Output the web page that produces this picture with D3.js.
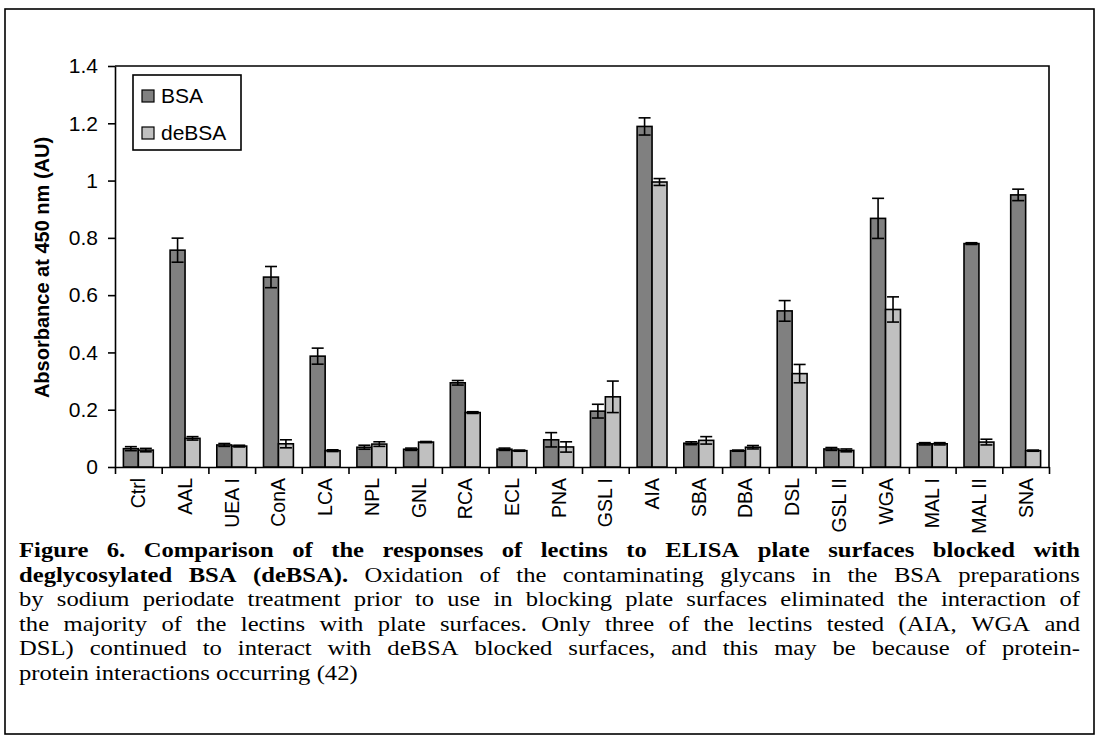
<!DOCTYPE html>
<html>
<head>
<meta charset="utf-8">
<script src="https://cdn.jsdelivr.net/npm/d3@7"></script>
<style>
  body { margin: 0; background: #fff; }
  svg { display: block; }
  .axis text { font-family: "Liberation Sans", Arial, sans-serif; font-size: 21px; fill: #000; }
  .axis path, .axis line { stroke: #000; stroke-width: 1.6px; }
</style>
</head>
<body>
<div id="chart-area"></div>
<script>

var width = 1098,
    height = 736;

// Data
var lectins = ["Ctrl", "AAL", "UEA I", "ConA", "LCA", "NPL", "GNL", "RCA", "ECL", "PNA",
               "GSL I", "AIA", "SBA", "DBA", "DSL", "GSL II", "WGA", "MAL I", "MAL II", "SNA"];
var seriesNames = ["BSA", "deBSA"];
var bsa      = [0.064, 0.757, 0.077, 0.663, 0.387, 0.069, 0.062, 0.294, 0.062, 0.095,
                0.195, 1.189, 0.083, 0.057, 0.545, 0.063, 0.868, 0.081, 0.780, 0.950];
var bsaErr   = [0.007, 0.042, 0.005, 0.037, 0.028, 0.007, 0.004, 0.008, 0.004, 0.025,
                0.024, 0.030, 0.005, 0.002, 0.036, 0.005, 0.070, 0.004, 0.003, 0.020];
var debsa    = [0.059, 0.100, 0.073, 0.081, 0.057, 0.080, 0.087, 0.190, 0.057, 0.070,
                0.245, 0.995, 0.093, 0.069, 0.326, 0.058, 0.550, 0.081, 0.087, 0.057];
var debsaErr = [0.006, 0.006, 0.003, 0.014, 0.003, 0.008, 0.002, 0.003, 0.002, 0.018,
                0.055, 0.012, 0.013, 0.006, 0.032, 0.005, 0.044, 0.004, 0.010, 0.002];
var yTicks = [0, 0.2, 0.4, 0.6, 0.8, 1, 1.2, 1.4];
var colors = ["#808080", "#c0c0c0"];

// Caption lines: [text, bold] segments
var caption = [
    [["Figure 6. Comparison of the responses of lectins to ELISA plate surfaces blocked with", true]],
    [["deglycosylated BSA (deBSA).", true], ["Oxidation of the contaminating glycans in the BSA preparations", false]],
    [["by sodium periodate treatment prior to use in blocking plate surfaces eliminated the interaction of", false]],
    [["the majority of the lectins with plate surfaces. Only three of the lectins tested (AIA, WGA and", false]],
    [["DSL) continued to interact with deBSA blocked surfaces, and this may be because of protein-", false]],
    [["protein interactions occurring (42)", false]]
];

var margin = {left: 115, right: 49, top: 66, bottom: 269};
var plotW = width - margin.left - margin.right,
    plotH = height - margin.top - margin.bottom;

var svg = d3.select("#chart-area").append("svg")
    .attr("width", width)
    .attr("height", height);

// outer frame
svg.append("rect")
    .attr("x", 5).attr("y", 9)
    .attr("width", 1089).attr("height", 725)
    .attr("fill", "none")
    .attr("stroke", "#000")
    .attr("stroke-width", 1.6);

var g = svg.append("g")
    .attr("transform", "translate(" + margin.left + "," + margin.top + ")");

var x0 = d3.scaleBand()
    .domain(lectins)
    .range([0, plotW])
    .paddingInner(0.36)
    .paddingOuter(0.18);

var x1 = d3.scaleBand()
    .domain(seriesNames)
    .range([0, x0.bandwidth()]);

var xEdge = d3.scaleLinear()
    .domain([0, lectins.length])
    .range([0, plotW]);

var y = d3.scaleLinear()
    .domain([0, 1.4])
    .range([plotH, 0]);

// plot frame (top and right)
g.append("path")
    .attr("d", "M0,0H" + plotW + "V" + plotH)
    .attr("fill", "none")
    .attr("stroke", "#000")
    .attr("stroke-width", 1.6);

// y axis
g.append("g")
    .attr("class", "axis")
    .call(d3.axisLeft(y)
        .tickValues(yTicks)
        .tickSize(7)
        .tickPadding(10)
        .tickSizeOuter(0)
        .tickFormat(function(d) { return String(+d.toFixed(1)); }));

// x axis (ticks between categories)
g.append("g")
    .attr("class", "axis")
    .attr("transform", "translate(0," + plotH + ")")
    .call(d3.axisBottom(xEdge)
        .tickValues(d3.range(lectins.length + 1))
        .tickSize(7)
        .tickSizeOuter(0)
        .tickFormat(""));

// category labels, rotated
g.selectAll(".xlabel")
    .data(lectins)
    .enter().append("text")
    .attr("class", "xlabel")
    .attr("transform", function(d) {
        return "translate(" + (x0(d) + x0.bandwidth() / 2) + "," + (plotH + 11) + ") rotate(-90)";
    })
    .attr("text-anchor", "end")
    .attr("dy", "0.36em")
    .style("font-family", "Liberation Sans, Arial, sans-serif")
    .style("font-size", "19.5px")
    .text(function(d) { return d; });

// bars
var rows = lectins.map(function(name, i) {
    return {
        name: name,
        values: [
            {key: "BSA", v: bsa[i], e: bsaErr[i], c: colors[0]},
            {key: "deBSA", v: debsa[i], e: debsaErr[i], c: colors[1]}
        ]
    };
});

var group = g.selectAll(".group")
    .data(rows)
    .enter().append("g")
    .attr("class", "group")
    .attr("transform", function(d) { return "translate(" + x0(d.name) + ",0)"; });

group.selectAll("rect")
    .data(function(d) { return d.values; })
    .enter().append("rect")
    .attr("x", function(d) { return x1(d.key); })
    .attr("width", x1.bandwidth())
    .attr("y", function(d) { return y(d.v); })
    .attr("height", function(d) { return plotH - y(d.v); })
    .attr("fill", function(d) { return d.c; })
    .attr("stroke", "#000")
    .attr("stroke-width", 1.6);

// error bars
var capW = 6;
var err = group.selectAll(".err")
    .data(function(d) { return d.values; })
    .enter().append("g")
    .attr("class", "err")
    .attr("stroke", "#000")
    .attr("stroke-width", 1.6);

function midX(d) { return x1(d.key) + x1.bandwidth() / 2; }

err.append("line")
    .attr("x1", midX)
    .attr("x2", midX)
    .attr("y1", function(d) { return y(d.v - d.e); })
    .attr("y2", function(d) { return y(d.v + d.e); });

err.append("line")
    .attr("x1", function(d) { return midX(d) - capW; })
    .attr("x2", function(d) { return midX(d) + capW; })
    .attr("y1", function(d) { return y(d.v + d.e); })
    .attr("y2", function(d) { return y(d.v + d.e); });

err.append("line")
    .attr("x1", function(d) { return midX(d) - capW; })
    .attr("x2", function(d) { return midX(d) + capW; })
    .attr("y1", function(d) { return y(d.v - d.e); })
    .attr("y2", function(d) { return y(d.v - d.e); });

// y axis title
svg.append("text")
    .attr("transform", "translate(42," + (margin.top + plotH / 2 + 1) + ") rotate(-90)")
    .attr("text-anchor", "middle")
    .attr("dy", "0.36em")
    .style("font-family", "Liberation Sans, Arial, sans-serif")
    .style("font-size", "20px")
    .style("font-weight", "bold")
    .text("Absorbance at 450 nm (AU)");

// legend
var legend = svg.append("g")
    .attr("transform", "translate(133,75)");

legend.append("rect")
    .attr("width", 108).attr("height", 75)
    .attr("fill", "#fff")
    .attr("stroke", "#000")
    .attr("stroke-width", 1.6);

var item = legend.selectAll(".item")
    .data(seriesNames)
    .enter().append("g")
    .attr("class", "item")
    .attr("transform", function(d, i) { return "translate(9," + (15 + i * 37) + ")"; });

item.append("rect")
    .attr("width", 12).attr("height", 12)
    .attr("fill", function(d, i) { return colors[i]; })
    .attr("stroke", "#000")
    .attr("stroke-width", 1.2);

item.append("text")
    .attr("x", 19)
    .attr("y", 13)
    .style("font-family", "Liberation Sans, Arial, sans-serif")
    .style("font-size", "21px")
    .text(function(d) { return d; });

// caption: one text block, each word a tspan, lines justified
var capLeft = 19, capRight = 1080, capTop = 557, capStep = 24.6;
var capSize = 22, spaceW = 5.5, maxStretch = 1.12;

var capText = svg.append("text")
    .style("font-family", "Liberation Serif, 'Times New Roman', serif")
    .style("font-size", capSize + "px");

var capLines = caption.map(function(line) {
    var words = [];
    line.forEach(function(seg) {
        seg[0].split(" ").forEach(function(w) { words.push({t: w, b: seg[1]}); });
    });
    words.forEach(function(w) {
        w.node = capText.append("tspan")
            .style("font-weight", w.b ? "bold" : "normal")
            .text(w.t);
        w.w = w.node.node().getComputedTextLength();
    });
    return words;
});

var target = capRight - capLeft;
var sx = maxStretch;
capLines.forEach(function(words, li) {
    if (li === capLines.length - 1) return;
    var total = d3.sum(words, function(w) { return w.w; });
    sx = Math.min(sx, target / (total + 0.8 * spaceW * (words.length - 1)));
});

capText.attr("transform", "translate(" + capLeft + ",0) scale(" + sx + ",1)");

capLines.forEach(function(words, li) {
    var total = d3.sum(words, function(w) { return w.w; });
    var last = li === capLines.length - 1;
    var gap = last ? spaceW : (target / sx - total) / (words.length - 1);
    var xPos = 0;
    words.forEach(function(w) {
        w.node.attr("x", xPos).attr("y", capTop + li * capStep);
        xPos += w.w + gap;
    });
});

</script>
</body>
</html>
